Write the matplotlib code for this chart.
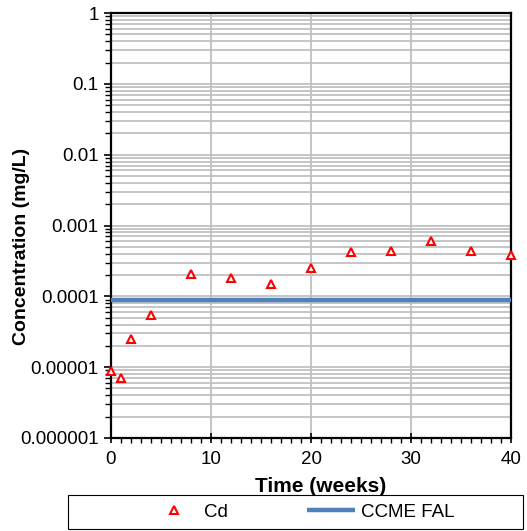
# Cd concentration vs time, log scale, with CCME FAL guideline

import matplotlib
matplotlib.use("Agg")
import matplotlib.pyplot as plt
from matplotlib.patches import Rectangle
from matplotlib.ticker import LogLocator, FixedLocator, MultipleLocator, NullFormatter

plt.rcParams['font.family'] = ['Liberation Sans', 'DejaVu Sans']

weeks = [0, 1, 2, 4, 8, 12, 16, 20, 24, 28, 32, 36, 40]
cd = [8.8e-6, 7.0e-6, 2.5e-5, 5.5e-5, 2.05e-4, 1.8e-4, 1.48e-4,
      2.5e-4, 4.2e-4, 4.4e-4, 6.1e-4, 4.4e-4, 3.8e-4]
ccme_x = [0, 40]
ccme_fal = [9e-5, 9e-5]

y_ticks = [1e-6, 1e-5, 1e-4, 1e-3, 1e-2, 1e-1, 1]
y_labels = ['0.000001', '0.00001', '0.0001', '0.001', '0.01', '0.1', '1']
x_ticks = [0, 10, 20, 30, 40]


def run():
    W, H = 527, 531
    fig = plt.figure(figsize=(W / 100, H / 100), dpi=100)
    ax = fig.add_axes([111 / W, 1 - 438 / H, 400 / W, 425 / H])

    ax.set_yscale('log')
    ax.set_xlim(0, 40)
    ax.set_ylim(1e-6, 1)

    ax.yaxis.set_major_locator(FixedLocator(y_ticks))
    ax.set_yticklabels(y_labels)
    ax.yaxis.set_minor_locator(LogLocator(base=10, subs=range(2, 10), numticks=20))
    ax.yaxis.set_minor_formatter(NullFormatter())
    ax.set_xticks(x_ticks)
    ax.xaxis.set_minor_locator(MultipleLocator(1))
    ax.grid(True, which='major', color='#c0c0c0', linewidth=1.3)
    ax.grid(True, which='minor', axis='y', color='#c0c0c0', linewidth=1.3)
    ax.set_axisbelow(True)

    line, = ax.plot(ccme_x, ccme_fal, color='#4f81bd', linewidth=3.2,
                    solid_capstyle='butt', label='CCME FAL', zorder=3)
    pts, = ax.plot(weeks, cd, linestyle='none', marker='^', markersize=6,
                   markerfacecolor='white', markeredgecolor='red',
                   markeredgewidth=1.5, label='Cd', clip_on=False, zorder=4)

    for s in ax.spines.values():
        s.set_linewidth(1.6)
        s.set_color('black')

    ax.tick_params(axis='y', which='major', direction='out', length=5, width=1.2,
                   labelsize=13.5, pad=4)
    ax.tick_params(axis='y', which='minor', direction='out', length=4, width=1.0)
    ax.tick_params(axis='x', which='major', direction='inout', length=7, width=1.2,
                   labelsize=13.5, pad=6)
    ax.tick_params(axis='x', which='minor', direction='out', length=3.5, width=1.0)

    fig.text(22 / W, 1 - 246 / H, 'Concentration (mg/L)', rotation=90,
             ha='center', va='center', fontsize=14, fontweight='bold')
    fig.text(321 / W, 1 - 487 / H, 'Time (weeks)', ha='center', va='center',
             fontsize=15, fontweight='bold')

    # legend box drawn separately, legend content centred inside it
    fig.patches.append(Rectangle((68 / W, 1 - 529 / H), 455 / W, 34 / H,
                                 transform=fig.transFigure, fill=False,
                                 edgecolor='black', linewidth=0.8))
    fig.legend([pts, line], ['Cd', 'CCME FAL'], ncol=2, loc='center',
               bbox_to_anchor=(302 / W, 1 - 512 / H), frameon=False,
               fontsize=13.5, handlelength=2.6, handletextpad=0.3,
               columnspacing=4.2, borderaxespad=0)

    fig.savefig('out.png', dpi=100)


if __name__ == '__main__':
    run()
